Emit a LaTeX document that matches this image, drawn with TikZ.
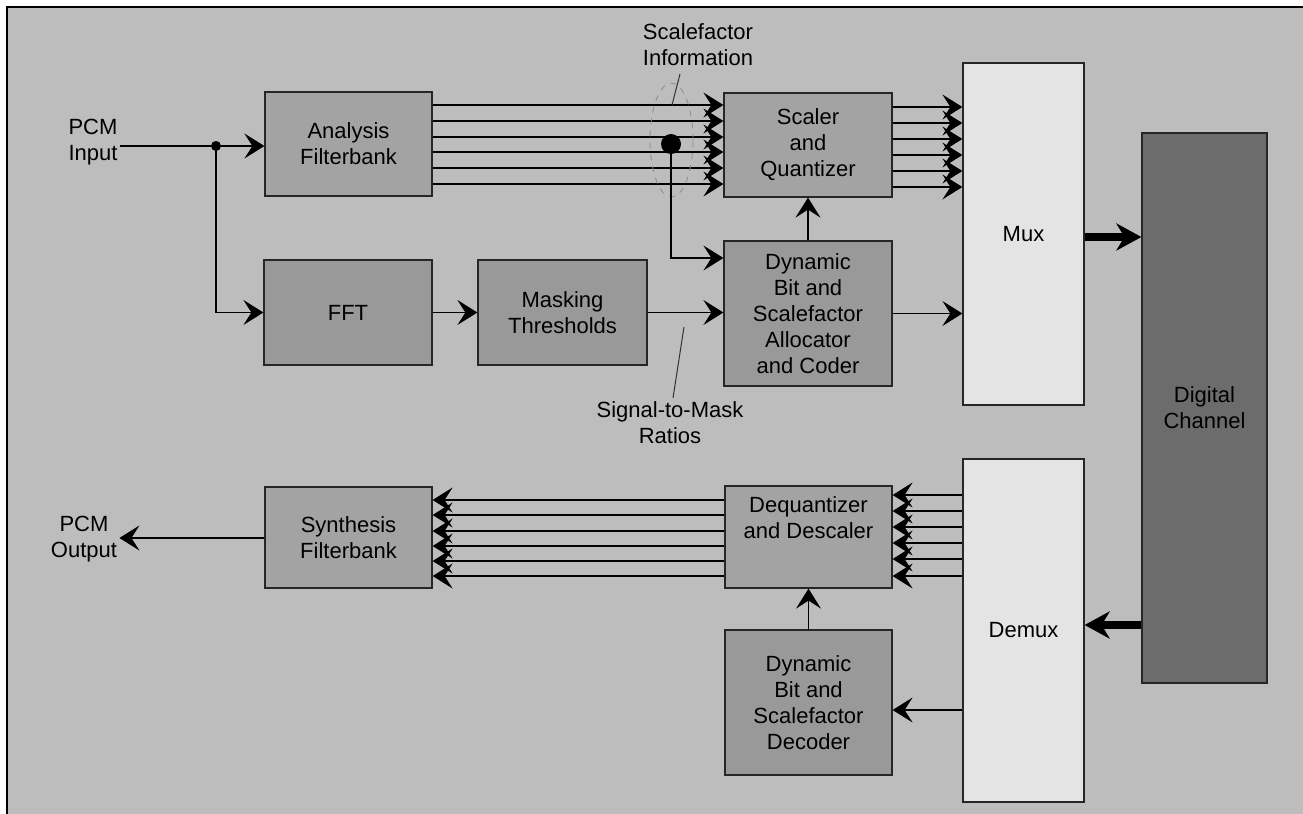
\documentclass[tikz,border=0pt]{standalone}
\usepackage{fontspec}
\setmainfont{Liberation Sans}
\usetikzlibrary{arrows.meta,calc}
\definecolor{bgc}{HTML}{BDBDBD}
\definecolor{boxa}{HTML}{A3A3A3}
\definecolor{boxb}{HTML}{999999}
\definecolor{muxc}{HTML}{E4E4E4}
\definecolor{chanc}{HTML}{6C6C6C}
\begin{document}
\begin{tikzpicture}[x=0.5pt,y=-0.5pt,
  font=\fontsize{11}{13}\selectfont,
  blk/.style={draw=black!85, line width=0.6pt, fill=boxa, align=center, inner sep=0pt},
  blkd/.style={blk, fill=boxb},
  lbl/.style={align=center, inner sep=1pt},
  arr/.style={line width=0.7pt, -{Stealth[length=10pt,width=12.5pt,inset=4pt]}},
  fat/.style={line width=4pt, -{Stealth[length=12.5pt,width=13.5pt,inset=4pt]}},
  ln/.style={line width=0.7pt},
  ptr/.style={line width=0.5pt, black!80}]
\useasboundingbox (0,0) rectangle (1303,814);
\fill[white] (0,0) rectangle (1303,814);
\fill[bgc] (7,7) rectangle (1303,814);
\draw[line width=1pt] (7,814) -- (7,7) -- (1303,7);

% blocks
\node[blk, minimum width=83.5pt, minimum height=52pt] (afb) at (348.5,144) {Analysis\\Filterbank};
\node[blkd, minimum width=84pt, minimum height=52.5pt] (fft) at (348,312.5) {FFT};
\node[blkd, minimum width=84.5pt, minimum height=52.5pt] (mask) at (562.5,312.5) {Masking\\Thresholds};
\node[blk, minimum width=84pt, minimum height=52pt] (sq) at (808,145) {Scaler\\and\\Quantizer};
\node[blkd, minimum width=84pt, minimum height=72.5pt] (dba) at (808,313.5) {Dynamic\\Bit and\\Scalefactor\\Allocator\\and Coder};
\node[blk, fill=muxc, minimum width=60.5pt, minimum height=171pt] (mux) at (1023.5,234) {Mux};
\node[blk, fill=chanc, minimum width=62.5pt, minimum height=275pt] (dc) at (1204.5,408) {Digital\\Channel};
\node[blk, fill=muxc, minimum width=60.5pt, minimum height=171.5pt] (demux) at (1023.5,630.5) {Demux};
\node[blk, minimum width=83.5pt, minimum height=51pt] (deq) at (808.5,537) {Dequantizer\\and Descaler\\[6pt]};
\node[blk, minimum width=83.5pt, minimum height=50.5pt] (sfb) at (348.5,537.5) {Synthesis\\Filterbank};
\node[blkd, minimum width=83.5pt, minimum height=72.5pt] (dbd) at (808.5,702.5) {Dynamic\\Bit and\\Scalefactor\\Decoder};

% labels
\node[lbl] (pin) at (93,142) {PCM\\Input};
\node[lbl] (pout) at (84,539) {PCM\\Output};
\node[lbl] (sfi) at (698,45) {Scalefactor\\Information};
\node[lbl] (smr) at (670,423) {Signal-to-Mask\\Ratios};

% input split
\node[circle, fill=black, inner sep=0pt, minimum size=5pt] (jn) at (216,146) {};
\draw[ln] (pin.east |- jn) -- (jn);
\draw[arr] (jn) -- (afb.west |- jn);
\draw[arr] (jn.center) -- (jn.center |- fft.west) -- (fft.west);
\draw[arr] (fft.east) -- (mask.west);
\draw[arr] (mask.east) -- (dba.west |- mask.east);

% subband lines
\foreach \y in {105,121,137,152,168,184}
  \draw[arr] (afb.east |- 0,\y) -- (sq.west |- 0,\y);
\foreach \y in {107,123,139,155,171,187}
  \draw[arr] (sq.east |- 0,\y) -- (mux.west |- 0,\y);

% scalefactor tap
\draw[dashed, line width=0.4pt, black!45] (671.5,140) ellipse [x radius=10.75pt, y radius=28.5pt];
\node[circle, fill=black, inner sep=0pt, minimum size=10pt] (sdot) at (671,144) {};
\coordinate (bend) at (671,258);
\draw[arr] (sdot.center) -- (bend) -- (dba.west |- bend);
\coordinate (sfiA) at (680,74);
\coordinate (sfiB) at (672,105);
\draw[ptr] (sfiA) -- (sfiB);
\coordinate (smrA) at (684,327);
\coordinate (smrB) at (673,398);
\draw[ptr] (smrA) -- (smrB);

\draw[arr] (dba.north) -- (sq.south);
\draw[arr] (dba.east) -- (mux.west |- dba.east);

% channel
\draw[fat] (mux.east |- 0,237) -- (dc.west |- 0,237);
\draw[fat] (dc.west |- 0,625) -- (demux.east |- 0,625);

% decoder side
\foreach \y in {495,511,527,543,559,576}
  \draw[arr] (demux.west |- 0,\y) -- (deq.east |- 0,\y);
\foreach \y in {500,515,531,546,561,576}
  \draw[arr] (deq.west |- 0,\y) -- (sfb.east |- 0,\y);
\draw[arr] (demux.west |- 0,710) -- (dbd.east |- 0,710);
\draw[arr] (dbd.north) -- (deq.south);
\draw[arr] (sfb.west |- 0,538) -- (pout.east |- 0,538);
\end{tikzpicture}
\end{document}
